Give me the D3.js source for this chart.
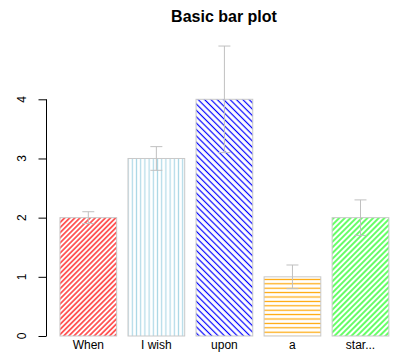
<!DOCTYPE html>
<html><head><meta charset="utf-8">
<script src="https://cdn.jsdelivr.net/npm/d3@7"></script>
<style>body{margin:0;background:#fff}svg{display:block}</style>
</head><body>
<script>
const names = ["When", "I wish", "upon", "a", "star..."];
const values = [2, 3, 4, 1, 2];
const errors = [0.1, 0.2, 0.9, 0.2, 0.3];
const colors = ["red", "lightblue", "blue", "orange", "#00ff00"];
const angles = [45, 90, 135, 0, 45];
const spacing = [3.6, 4.2, 4.5, 4.4, 4.0];
const yTicks = [0, 1, 2, 3, 4];

const W = 398, H = 353;
const svg = d3.select("body").append("svg").attr("width", W).attr("height", H);
const x = d3.scaleLinear().domain([-0.032, 6.232]).range([46.8, 402]);
const y = d3.scaleLinear().domain([0, 4]).range([336, 99.3]);

const defs = svg.append("defs");
values.forEach((v, i) => {
  const d = spacing[i];
  const p = defs.append("pattern").attr("id", "h" + i)
    .attr("patternUnits", "userSpaceOnUse")
    .attr("width", 20).attr("height", d)
    .attr("patternTransform", `rotate(${-angles[i]})`);
  p.append("line").attr("x1", 0).attr("x2", 20).attr("y1", d / 2).attr("y2", d / 2)
    .attr("stroke", colors[i]).attr("stroke-width", 1.2);
});

const bw = x(1) - x(0);
const g = svg.append("g");
values.forEach((v, i) => {
  const x0 = x(0.2 + 1.2 * i);
  g.append("rect").attr("x", x0).attr("y", y(v)).attr("width", bw).attr("height", y(0) - y(v))
    .attr("fill", `url(#h${i})`).attr("stroke", "#c8c8c8").attr("stroke-width", 1);
});
// error bars
values.forEach((v, i) => {
  const cx = x(0.7 + 1.2 * i);
  const e = errors[i];
  const eg = svg.append("g").attr("stroke", "#c0c0c0").attr("stroke-width", 1);
  eg.append("line").attr("x1", cx).attr("x2", cx).attr("y1", y(v - e)).attr("y2", y(v + e));
  eg.append("line").attr("x1", cx - 6).attr("x2", cx + 6).attr("y1", y(v - e)).attr("y2", y(v - e));
  eg.append("line").attr("x1", cx - 6).attr("x2", cx + 6).attr("y1", y(v + e)).attr("y2", y(v + e));
});

// y axis
const ya = svg.append("g").attr("transform", "translate(46.5,0)")
  .call(d3.axisLeft(y).tickValues(yTicks).tickSize(8).tickPadding(0).tickFormat(d3.format("d")));
ya.select(".domain").attr("d", `M0,${y(0)}V${y(4)}`).attr("stroke", "#000");
ya.selectAll(".tick line").attr("stroke", "#000");
ya.selectAll(".tick text").remove();
yTicks.forEach(t => {
  svg.append("text").attr("transform", `translate(26,${y(t)}) rotate(-90)`)
    .attr("text-anchor", "middle").attr("font-family", "Liberation Sans, Arial, sans-serif")
    .attr("font-size", 12).text(t);
});

// category labels
names.forEach((n, i) => {
  svg.append("text").attr("x", x(0.7 + 1.2 * i)).attr("y", 349)
    .attr("text-anchor", "middle").attr("font-family", "Liberation Sans, Arial, sans-serif")
    .attr("font-size", 12).text(n);
});

svg.append("text").attr("x", 224).attr("y", 22).attr("text-anchor", "middle")
  .attr("font-family", "Liberation Sans, Arial, sans-serif").attr("font-weight", "bold")
  .attr("font-size", 16).text("Basic bar plot");
</script>
</body></html>
